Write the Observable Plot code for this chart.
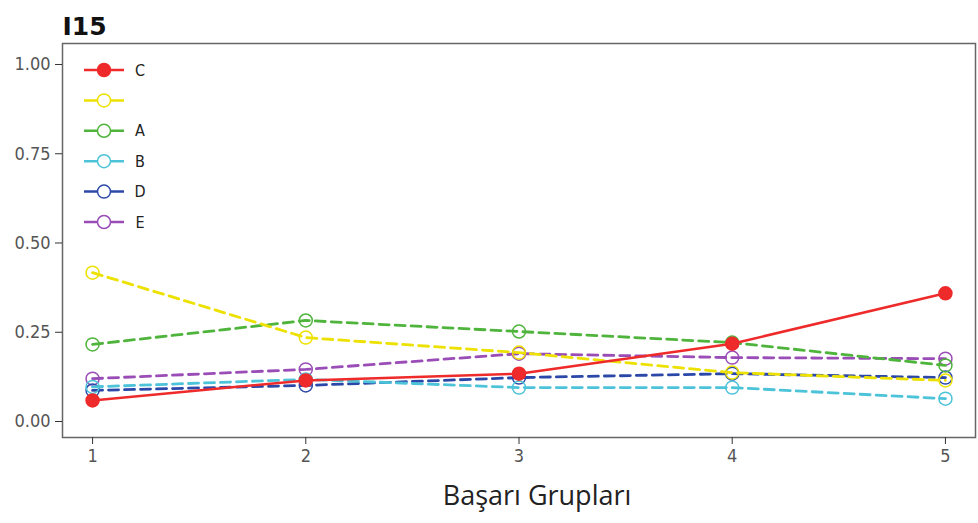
<!DOCTYPE html>
<html>
<head>
<meta charset="utf-8">
<script src="https://cdn.jsdelivr.net/npm/d3@7"></script>
<script src="https://cdn.jsdelivr.net/npm/@observablehq/plot@0.6"></script>
<style>
  html, body { margin: 0; padding: 0; background: #fff; }
  .cond { font-family: "DejaVu Sans Condensed", "DejaVu Sans"; font-stretch: condensed; }
</style>
</head>
<body>
<div id="chart"></div>
<script>
// ---- data ----
const groups = [1, 2, 3, 4, 5];
const seriesLabels = ["C", "", "A", "B", "D", "E"];
const seriesColors = ["#ee2a2a", "#ece100", "#4fb43c", "#4cc3d8", "#2b48a8", "#9a4db6"];
const seriesDashed = [false, true, true, true, true, true];
const valuesC = [0.059, 0.115, 0.134, 0.218, 0.359];
const valuesY = [0.417, 0.235, 0.193, 0.137, 0.115];
const valuesA = [0.216, 0.283, 0.252, 0.221, 0.157];
const valuesB = [0.097, 0.118, 0.095, 0.095, 0.064];
const valuesD = [0.087, 0.101, 0.123, 0.134, 0.123];
const valuesE = [0.120, 0.146, 0.190, 0.179, 0.176];
const yTicks = [0, 0.25, 0.5, 0.75, 1];
const title = "I15";
const xTitle = "Başarı Grupları";

const seriesValues = [valuesC, valuesY, valuesA, valuesB, valuesD, valuesE];
const rows = [];
seriesValues.forEach((vals, s) => vals.forEach((v, i) => rows.push({s, x: groups[i], y: v})));

const condFont = "DejaVu Sans Condensed, DejaVu Sans";
const drawOrder = [5, 4, 3, 2, 1, 0];
const marks = [Plot.frame({stroke: "#666", strokeWidth: 1.5})];
for (const s of drawOrder) {
  const d = rows.filter(r => r.s === s);
  marks.push(Plot.line(d, {x: "x", y: "y", stroke: seriesColors[s], strokeWidth: seriesDashed[s] ? 2.8 : 2.5,
    strokeDasharray: seriesDashed[s] ? "10,6" : null}));
  marks.push(Plot.dot(d, {x: "x", y: "y", r: 6.5, stroke: seriesColors[s], strokeWidth: 1.5,
    fill: seriesDashed[s] ? "white" : seriesColors[s], fillOpacity: seriesDashed[s] ? 0 : 1}));
}
marks.push(Plot.axisX({ticks: groups, tickFormat: d => String(d), tickSize: 7, tickPadding: 5,
  fontSize: 18, fill: "#555", stroke: "#333", label: null, className: "cond"}));
marks.push(Plot.axisY({ticks: yTicks, tickFormat: d3.format(".2f"), tickSize: 7, tickPadding: 5,
  fontSize: 18, fill: "#555", stroke: "#333", label: null, className: "cond"}));
marks.push(Plot.text([title], {frameAnchor: "top-left", dx: 0, dy: -26, text: d => d,
  fontSize: 25, fontWeight: "bold", textAnchor: "start", fill: "#111"}));
marks.push(Plot.text([xTitle], {frameAnchor: "bottom", dx: 18, dy: 67, text: d => d,
  fontSize: 27, fontFamily: "Open Sans", fill: "#222"}));

const plot = Plot.plot({
  width: 978,
  height: 523,
  marginLeft: 62,
  marginRight: 3,
  marginTop: 43,
  marginBottom: 86,
  style: {fontFamily: "DejaVu Sans", background: "white", overflow: "visible"},
  x: {type: "linear", domain: [0.859, 5.141]},
  y: {domain: [-0.0448, 1.0588]},
  marks
});
document.getElementById("chart").appendChild(plot);

// ---- legend (inside panel, top-left) ----
const svg = d3.select(plot);
const lg = svg.append("g");
seriesLabels.forEach((lab, i) => {
  const y = 70 + i * 30.4;
  const g = lg.append("g");
  g.append("line").attr("x1", 84).attr("x2", 124).attr("y1", y).attr("y2", y)
    .attr("stroke", seriesColors[i]).attr("stroke-width", 2.5);
  g.append("circle").attr("cx", 104).attr("cy", y).attr("r", 6.5)
    .attr("stroke", seriesColors[i]).attr("stroke-width", 1.5)
    .attr("fill", seriesDashed[i] ? "white" : seriesColors[i]);
  g.append("text").attr("x", 140).attr("y", y).attr("dy", "0.35em")
    .attr("font-size", 16).attr("font-family", condFont).attr("fill", "#222").text(lab);
});
</script>
</body>
</html>
